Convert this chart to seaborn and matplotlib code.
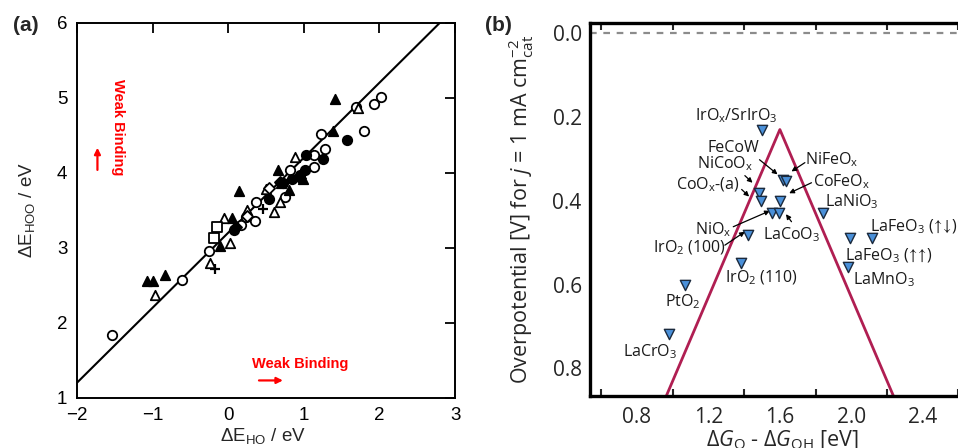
import matplotlib
matplotlib.use("Agg")
import matplotlib.pyplot as plt
from matplotlib.ticker import FixedLocator, FormatStrFormatter
import seaborn as sns
import pandas as pd

sns.set_theme(style="white")
plt.rcParams['font.family'] = ['Liberation Sans', 'DejaVu Sans']
plt.rcParams['mathtext.fontset'] = 'custom'
plt.rcParams['mathtext.rm'] = 'Open Sans'
plt.rcParams['mathtext.it'] = 'Open Sans:italic'
plt.rcParams['mathtext.bf'] = 'Open Sans:bold'
plt.rcParams['mathtext.fallback'] = 'stixsans'

# ---------------- (a) scaling relation: dE_HOO vs dE_HO ----------------
open_circle_x = [-1.54, -0.61, -0.26, 0.17, 0.37, 0.35, 0.24, 0.75, 0.82, 1.14, 1.14, 1.28, 1.23, 1.79, 1.93, 2.02, 1.69]
open_circle_y = [1.84, 2.57, 2.96, 3.30, 3.61, 3.36, 3.41, 3.68, 4.03, 4.24, 4.08, 4.32, 4.52, 4.55, 4.92, 5.01, 4.87]
filled_circle_x = [1.57, 1.25, 1.03, 1.02, 0.54, 0.07, 0.84, 0.95, 0.72]
filled_circle_y = [4.44, 4.18, 4.24, 4.03, 3.65, 3.24, 3.92, 3.97, 3.86]
filled_tri_x = [1.41, 1.38, 0.66, 0.14, 0.05, -0.11, -0.83, -0.99, -1.08, 0.81, 0.99, 0.70]
filled_tri_y = [4.98, 4.56, 4.04, 3.75, 3.39, 3.02, 2.64, 2.55, 2.55, 3.77, 3.92, 3.86]
open_tri_x = [1.72, 0.88, 0.61, 0.68, 0.25, -0.06, 0.02, -0.24, -0.97, 0.50]
open_tri_y = [4.86, 4.21, 3.47, 3.61, 3.50, 3.39, 3.06, 2.79, 2.37, 3.78]
open_square_x = [-0.15, -0.19]
open_square_y = [3.27, 3.13]
plus_x = [-0.17, 0.46]
plus_y = [2.72, 3.52]
filled_diamond_x = [0.69, 0.10, 0.95]
filled_diamond_y = [3.87, 3.27, 3.93]
open_diamond_x = [0.54, 0.25]
open_diamond_y = [3.79, 3.42]

fit_x = [-2.0, 2.8]
fit_y = [1.2, 6.0]

# ---------------- (b) OER activity volcano ----------------
materials = ["IrO$_{\\mathregular{x}}$/SrIrO$_{\\mathregular{3}}$", "FeCoW", "NiFeO$_{\\mathregular{x}}$",
             "CoFeO$_{\\mathregular{x}}$", "NiCoO$_{\\mathregular{x}}$", "CoO$_{\\mathregular{x}}$-(a)",
             "NiO$_{\\mathregular{x}}$", "LaCoO$_{\\mathregular{3}}$", "IrO$_{\\mathregular{2}}$ (100)",
             "IrO$_{\\mathregular{2}}$ (110)", "PtO$_{\\mathregular{2}}$", "LaCrO$_{\\mathregular{3}}$",
             "LaNiO$_{\\mathregular{3}}$", "LaFeO$_{\\mathregular{3}}$ ($\\!{\\uparrow}\\!\\!{\\uparrow}\\!$)",
             "LaFeO$_{\\mathregular{3}}$ ($\\!{\\uparrow}\\!\\!{\\downarrow}\\!$)", "LaMnO$_{\\mathregular{3}}$"]
dG_O_minus_OH = [1.50, 1.615, 1.635, 1.60, 1.484, 1.493, 1.558, 1.593, 1.423, 1.382, 1.069, 0.981,
                 1.842, 1.992, 2.116, 1.983]
overpotential = [0.23, 0.35, 0.352, 0.40, 0.381, 0.40, 0.43, 0.43, 0.482, 0.549, 0.601, 0.719,
                 0.43, 0.49, 0.49, 0.557]

volcano_x = [0.95, 1.60, 2.25]
volcano_y = [0.88, 0.23, 0.88]

# label placement: (x, y, ha)
label_pos = {
    0: (1.358, 0.198, 'center'),
    1: (1.339, 0.275, 'center'),
    2: (1.742, 0.301, 'left'),
    3: (1.785, 0.354, 'left'),
    4: (1.292, 0.312, 'center'),
    5: (1.195, 0.362, 'center'),
    6: (1.227, 0.468, 'center'),
    7: (1.665, 0.482, 'center'),
    8: (1.093, 0.513, 'center'),
    9: (1.498, 0.585, 'center'),
    10: (1.055, 0.641, 'center'),
    11: (0.873, 0.759, 'center'),
    12: (1.855, 0.402, 'left'),
    13: (1.964, 0.532, 'left'),
    14: (2.107, 0.462, 'left'),
    15: (2.007, 0.588, 'left'),
}
# pointer arrows: tail -> tip
arrows = [
    ((1.486, 0.302), (1.587, 0.337)),
    ((1.404, 0.340), (1.447, 0.357)),
    ((1.386, 0.373), (1.428, 0.390)),
    ((1.740, 0.309), (1.665, 0.330)),
    ((1.777, 0.357), (1.652, 0.382)),
    ((1.339, 0.462), (1.544, 0.424)),
    ((1.665, 0.450), (1.634, 0.432)),
    ((1.292, 0.506), (1.404, 0.474)),
]

fig = plt.figure(figsize=(9.58, 4.48), dpi=100)

# ================= panel (a) =================
axa = fig.add_axes([0.0804, 0.1123, 0.3946, 0.837])
sns.lineplot(x=fit_x, y=fit_y, ax=axa, color='black', lw=1.5)

groups = [
    (open_circle_x, open_circle_y, 'o', 'white'),
    (filled_circle_x, filled_circle_y, 'o', 'black'),
    (filled_tri_x, filled_tri_y, '^', 'black'),
    (open_tri_x, open_tri_y, '^', 'white'),
    (open_square_x, open_square_y, 's', 'white'),
    (filled_diamond_x, filled_diamond_y, 'D', 'black'),
    (open_diamond_x, open_diamond_y, 'D', 'white'),
]
for gx, gy, mk, fc in groups:
    sz = 32 if mk == 'D' else 46
    sns.scatterplot(x=gx, y=gy, ax=axa, marker=mk, s=sz, facecolor=fc,
                    edgecolor='black', linewidth=1.3, zorder=3)
sns.scatterplot(x=plus_x, y=plus_y, ax=axa, marker='+', s=55, color='black',
                linewidth=1.6, zorder=3)

axa.set_xlim(-2, 3)
axa.set_ylim(1, 6)
axa.set_xticks([-2, -1, 0, 1, 2, 3])
axa.set_yticks([1, 2, 3, 4, 5, 6])
axa.tick_params(direction='in', length=7, width=1.3, top=True, right=True,
                labelsize=13.5, pad=7, colors='black')
for s in axa.spines.values():
    s.set_linewidth(1.4)
    s.set_color('black')
axa.set_xlabel(r"ΔE$_{\mathregular{HO}}$ / eV", fontsize=13.5)
axa.set_ylabel(r"ΔE$_{\mathregular{HOO}}$ / eV", fontsize=13.5)
axa.xaxis.set_label_coords(0.492, -0.075)
axa.yaxis.set_label_coords(-0.105, 0.5)

axa.text(0.95, 1.45, "Weak Binding", color='red', fontsize=10.5, fontweight='bold',
         ha='center', va='center')
axa.annotate("", xy=(0.76, 1.23), xytext=(0.37, 1.23),
             arrowprops=dict(arrowstyle='-|>', color='red', lw=1.6, mutation_scale=9))
axa.text(-1.46, 4.61, "Weak Binding", color='red', fontsize=10.5, fontweight='bold',
         ha='center', va='center', rotation=270)
axa.annotate("", xy=(-1.73, 4.37), xytext=(-1.73, 4.0),
             arrowprops=dict(arrowstyle='-|>', color='red', lw=1.6, mutation_scale=9))

fig.text(0.027, 0.944, "(a)", fontsize=15, fontweight='bold', ha='center', va='center')
fig.text(0.520, 0.944, "(b)", fontsize=15, fontweight='bold', ha='center', va='center')

# ================= panel (b) =================
axb = fig.add_axes([0.6159, 0.1161, 0.4405, 0.8332])
axb.axhline(0.0, color='#8c8c8c', lw=1.6, ls=(0, (3, 3)), zorder=1)
sns.lineplot(x=volcano_x, y=volcano_y, ax=axb, color='#b01e52', lw=2.0, sort=False, zorder=2)

df_b = pd.DataFrame({"material": materials, "dG": dG_O_minus_OH, "eta": overpotential})
sns.scatterplot(data=df_b, x="dG", y="eta", ax=axb, marker='v', s=55,
                color='#4a90d9', edgecolor='#1b2a3d', linewidth=1.0, zorder=4)

bfont = ['Open Sans', 'DejaVu Sans']
for i, name in enumerate(materials):
    lx, ly, ha = label_pos[i]
    axb.text(lx, ly, name, fontsize=11.5, family=bfont, ha=ha, va='center',
             color='#1a1a1a', zorder=5)
for tail, tip in arrows:
    axb.annotate("", xy=tip, xytext=tail,
                 arrowprops=dict(arrowstyle='-|>', color='black', lw=0.9,
                                 mutation_scale=7, shrinkA=0, shrinkB=0))

axb.set_xlim(0.537, 2.9)
axb.set_ylim(0.866, -0.025)
axb.xaxis.set_major_locator(FixedLocator([0.8, 1.2, 1.6, 2.0, 2.4, 2.8]))
axb.xaxis.set_minor_locator(FixedLocator([0.6, 1.0, 1.4, 1.8, 2.2, 2.6]))
axb.xaxis.set_major_formatter(FormatStrFormatter('%.1f'))
axb.yaxis.set_major_locator(FixedLocator([0.0, 0.2, 0.4, 0.6, 0.8]))
axb.yaxis.set_major_formatter(FormatStrFormatter('%.1f'))
axb.tick_params(axis='x', which='major', length=0, labelsize=15, pad=8)
axb.tick_params(axis='x', which='minor', direction='in', length=5, width=1.5,
                top=True, bottom=True)
axb.tick_params(axis='y', which='major', direction='in', length=7, width=1.6,
                labelsize=15, pad=6)
for lab in axb.get_xticklabels() + axb.get_yticklabels():
    lab.set_family(bfont)
for s in axb.spines.values():
    s.set_linewidth(2.4)
    s.set_color('black')

axb.set_xlabel(r"$\Delta G_{\mathregular{O}}$ - $\Delta G_{\mathregular{OH}}$ [eV]",
               fontsize=15.5, family=bfont)
axb.set_ylabel(r"Overpotential [V] for $j$ = 1 mA cm$^{-2}_{\mathregular{cat}}$",
               fontsize=15.5, family=bfont)
axb.xaxis.set_label_coords(0.457, -0.087)
axb.yaxis.set_label_coords(-0.128, 0.5)

fig.savefig("out.png", dpi=100)
